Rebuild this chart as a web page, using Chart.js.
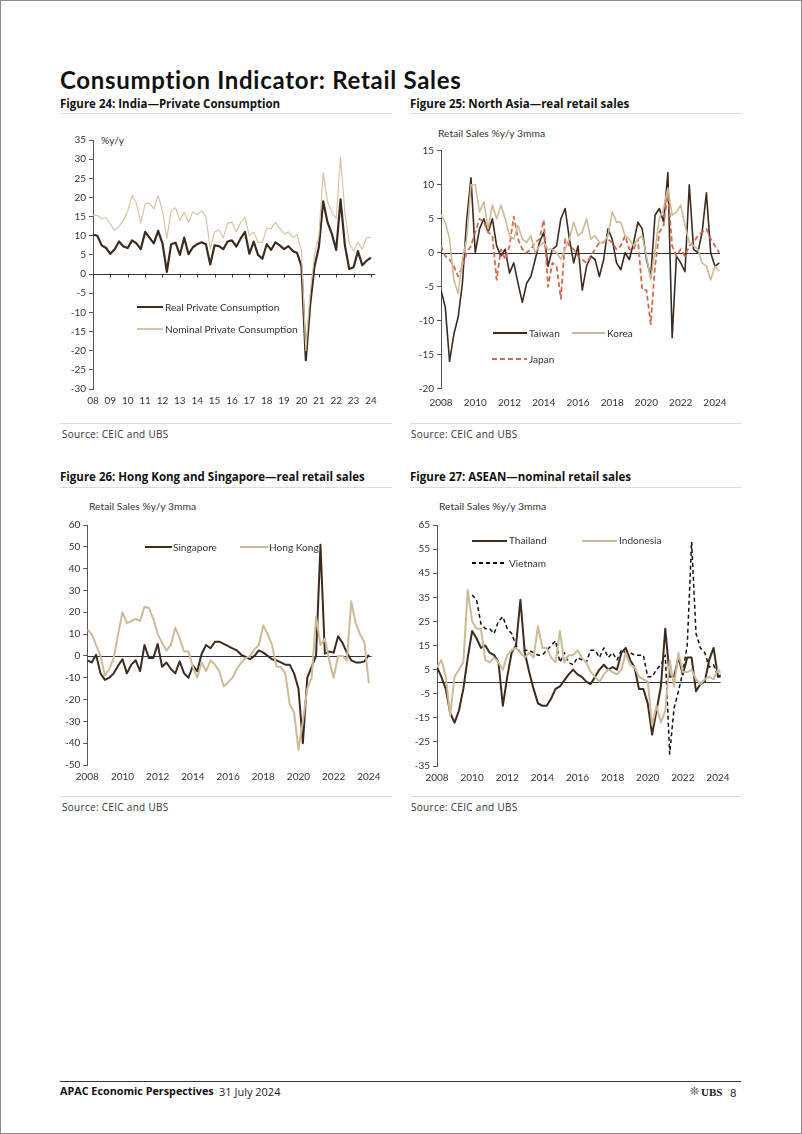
<!DOCTYPE html>
<html><head><meta charset="utf-8">
<script src="https://cdn.jsdelivr.net/npm/chart.js@4.4.1/dist/chart.umd.min.js"></script>
<style>
html,body{margin:0;padding:0;background:#fff;}
#page{position:relative;width:802px;height:1134px;overflow:hidden;font-family:Lato,"Open Sans",sans-serif;color:#222;}
#frame{position:absolute;left:0;top:0;width:800px;height:1132px;border:1px solid #8a8a8a;}
.t{position:absolute;white-space:nowrap;line-height:1;}
.b{font-weight:bold;color:#111;}
.os{font-family:"Open Sans",sans-serif;}
.hr{position:absolute;height:1px;background:#dcdcdc;}
canvas{position:absolute;}
.lg{position:absolute;}
.lt{position:absolute;white-space:nowrap;line-height:1;font-size:10.1px;color:#333;}
.src{font-size:10px;letter-spacing:0.3px;color:#333;font-family:"Open Sans",sans-serif;}
.ax{font-size:10.3px;color:#333;}
</style></head><body><div id="page">
<div id="frame"></div>
<div class="t b" style="left:60px;top:68px;font-size:24px;letter-spacing:0.7px;font-variant-ligatures:none;">Consumption Indicator: Retail Sales</div>

<div class="t b os" style="left:60px;top:98.1px;font-size:11.5px;">Figure 24: India—Private Consumption</div>
<div class="t b os" style="left:410px;top:98.1px;font-size:11.5px;">Figure 25: North Asia—real retail sales</div>
<div class="hr" style="left:60px;top:113px;width:332px;"></div>
<div class="hr" style="left:410px;top:113px;width:332px;"></div>

<div class="t b os" style="left:60px;top:470.8px;font-size:11.5px;">Figure 26: Hong Kong and Singapore—real retail sales</div>
<div class="t b os" style="left:410px;top:470.8px;font-size:11.5px;">Figure 27: ASEAN—nominal retail sales</div>
<div class="hr" style="left:60px;top:486.5px;width:332px;"></div>
<div class="hr" style="left:410px;top:486.5px;width:332px;"></div>

<div class="hr" style="left:60px;top:423px;width:332px;"></div>
<div class="hr" style="left:410px;top:423px;width:332px;"></div>
<div class="t src" style="left:62px;top:429.4px;">Source: CEIC and UBS</div>
<div class="t src" style="left:411px;top:429.4px;">Source: CEIC and UBS</div>
<div class="hr" style="left:60px;top:796px;width:332px;"></div>
<div class="hr" style="left:410px;top:796px;width:332px;"></div>
<div class="t src" style="left:62px;top:801.8px;">Source: CEIC and UBS</div>
<div class="t src" style="left:411px;top:801.8px;">Source: CEIC and UBS</div>

<div class="t ax" style="left:101px;top:134.5px;">%y/y</div>
<div class="t ax" style="left:438px;top:127.8px;">Retail Sales %y/y 3mma</div>
<div class="t ax" style="left:89px;top:501px;">Retail Sales %y/y 3mma</div>
<div class="t ax" style="left:439px;top:501px;">Retail Sales %y/y 3mma</div>

<canvas id="c1" width="330" height="290" style="left:60px;top:125px;"></canvas>
<canvas id="c2" width="340" height="275" style="left:405px;top:140px;"></canvas>
<canvas id="c3" width="345" height="280" style="left:55px;top:515px;"></canvas>
<canvas id="c4" width="340" height="280" style="left:405px;top:515px;"></canvas>

<!-- legends -->
<div class="lg" style="left:137px;top:306.2px;width:26px;height:2.2px;background:#3d2b1f;"></div>
<div class="lt" style="left:165px;top:301.9px;">Real Private Consumption</div>
<div class="lg" style="left:137px;top:328.4px;width:26px;height:1.2px;background:#d6c4a5;"></div>
<div class="lt" style="left:165px;top:323.7px;">Nominal Private Consumption</div>

<div class="lg" style="left:493px;top:332.2px;width:34px;height:1.6px;background:#3d2b1f;"></div>
<div class="lt" style="left:529px;top:327.7px;">Taiwan</div>
<div class="lg" style="left:572px;top:332.2px;width:33px;height:1.6px;background:#cfba98;"></div>
<div class="lt" style="left:607px;top:327.7px;">Korea</div>
<div class="lg" style="left:492px;top:358px;width:35px;height:2px;background:repeating-linear-gradient(90deg,#d4694e 0 5px,transparent 5px 8px);"></div>
<div class="lt" style="left:529px;top:353.7px;">Japan</div>

<div class="lg" style="left:145px;top:546.3px;width:27px;height:2px;background:#3d2b1f;"></div>
<div class="lt" style="left:173px;top:541.9px;">Singapore</div>
<div class="lg" style="left:240px;top:546.3px;width:28px;height:2px;background:#cfba98;"></div>
<div class="lt" style="left:269px;top:541.9px;">Hong Kong</div>

<div class="lg" style="left:472px;top:539.7px;width:35px;height:2px;background:#3d2b1f;"></div>
<div class="lt" style="left:509px;top:535.4px;">Thailand</div>
<div class="lg" style="left:582px;top:539.7px;width:35px;height:2px;background:#cfba98;"></div>
<div class="lt" style="left:619px;top:535.4px;">Indonesia</div>
<div class="lg" style="left:472px;top:562px;width:35px;height:1.6px;background:repeating-linear-gradient(90deg,#111 0 4px,transparent 4px 7px);"></div>
<div class="lt" style="left:509px;top:557.7px;">Vietnam</div>

<!-- footer -->
<div style="position:absolute;left:60px;top:1081px;width:681px;height:1.3px;background:#333;"></div>
<div class="t b os" style="left:60px;top:1086.1px;font-size:10.8px;">APAC Economic Perspectives</div>
<div class="t os" style="left:219px;top:1085.9px;font-size:11px;color:#222;">31 July 2024</div>
<div class="t" style="left:690px;top:1086px;font-size:11px;color:#333;font-family:'DejaVu Sans';">&#10058;</div>
<div class="t" style="left:701px;top:1086.5px;font-size:11px;font-weight:bold;color:#222;font-family:'Liberation Serif';">UBS</div>
<div class="t" style="left:730px;top:1086.5px;font-size:11px;color:#222;">8</div>
</div>

<script>
// ---------- data ----------
const startYear = 2008;        // first quarter = 2008Q1
const quarterStep = 0.25;      // quarterly observations

// Figure 24: India (quarterly, 2008Q1-2024Q1)
const indiaReal = [10.3,10.0,7.5,6.8, 5.3,6.5,8.5,7.2, 6.8,8.8,8.0,6.5, 11.0,9.5,8.0,11.3, 8.0,0.6,7.8,8.2,
  5.0,9.5,5.2,7.0, 7.8,8.3,7.8,2.5, 7.5,7.3,6.5,8.5, 8.8,7.2,9.3,11.0, 5.3,8.5,5.0,4.0, 7.8,6.3,8.3,7.5,
  6.5,7.3,6.0,5.5, 2.0,-22.5,-8.0,2.0, 7.0,19.0,13.5,10.5, 6.3,19.5,7.5,1.3, 1.8,6.0,2.3,3.5, 4.3];
const indiaNominal = [15.3,15.3,14.5,14.7, 13.0,11.5,12.5,14.0, 16.5,20.5,18.5,13.3, 18.3,18.5,17.0,20.5,
  16.5,9.3,16.5,17.3, 14.0,16.0,13.5,16.3, 15.5,16.5,15.0,6.5, 11.0,11.5,9.5,13.3, 13.5,11.0,13.5,14.8,
  10.0,11.0,8.3,8.3, 12.0,11.8,13.5,12.0, 10.5,11.0,9.5,10.3, 6.0,-20.0,-5.0,5.0, 10.0,26.5,19.0,16.0,
  14.5,30.5,16.0,8.0, 6.0,8.3,6.5,9.5, 9.5];
const indiaYears = [2008,2009,2010,2011,2012,2013,2014,2015,2016,2017,2018,2019,2020,2021,2022,2023,2024];
const indiaYTicks = [-30,-25,-20,-15,-10,-5,0,5,10,15,20,25,30,35];

// Figure 25: North Asia (3mma, sampled quarterly 2008Q1-2024Q2)
const taiwan = [-5.5,-8,-16,-12, -9.5,-4.5,4.8,11, 0,3.5,5,3, 5,1,-0.5,0.5, -3,-1.5,-4.5,-7.3, -4.5,-3.5,-1,1.5,
  3,-2,0.5,1, 5,6.5,2,-1.5, 1,-5.5,-2,-0.5, -1,-3.5,-1,3.5, 2,-1.5,-2.5,0, -1,1.5,4.5,3.5, -1,-3.5,5.5,6.5,
  4.5,11.8,-12.5,-0.5, -1.5,-2.8,10,0.5, 0,3,8.8,0, -2,-1.5];
const korea = [5.5,4.5,2,-4, -6,-1,2,10, 10,6,7.5,3.5, 7,5,7,5, 2.5,2,4,2, 1.5,2.5,0,1, 1.5,0.5,0.5,0,
  -1,0.5,2,4.5, 2.5,3,5,2, 2.5,1.5,1.5,2.5, 6,4.5,4.5,2.5, 2,1,2,2.5, -0.5,-4,0.5,5, 6.5,9.5,5.5,6,
  7,4,1.5,1, 0.5,-1.5,-2,-4, -2,-2.7];
const japan = [1,-0.5,-1,-2, -3.5,-2,0,1, 3,5,4.5,3, 2.5,-4,0.5,-1, 1,5.3,2,0.5, 0,0.5,1.5,2, 4.8,-5,-1.5,-2,
  -6.8,2,1,0.5, -0.5,-1,-1.5,-0.5, 0.5,1.5,1.5,2, 1.5,0.5,1,2.5, 0.5,0.5,2,-5.5, -5.5,-10.5,-2,3,
  4,9,1,-0.5, 0.5,-0.5,1,1.5, 2.5,3,3.5,2, 1,0];
const northAsiaYTicks = [-20,-15,-10,-5,0,5,10,15];

// Figure 26: Hong Kong and Singapore (3mma, sampled quarterly 2008Q1-2024Q1)
const singapore = [-2,-3,0.5,-8, -11,-10,-8,-4.5, -1.5,-8,-4,-2, -7,5,-1,-1, 5.5,-5,-3,-6, -8,-2.5,-8,-10,
  -4.5,-7,1,5, 3.5,6.5,6.5,5.5, 4.5,3.5,2.5,0.5, -0.5,-1.5,0,2.5, 1.5,0,-1.5,-2, -3,-4,-4,-8,
  -15,-40,-10,-5, 0,51,1,2, 1.5,9,6,1.5, -2,-3,-3,-2.5, 0.5];
const hongKong = [12,10,5,0, -9,-6,-1,10, 20,15,16,17, 16,22.5,22,17, 10,6,2.5,5, 13,8,2,2, -5,-10,-3,-7,
  -2,-4,-7,-14, -12,-10,-6,-3, -1,0,3,5, 14,10,5,-5, -5,-8,-22,-26, -43,-30,-15,-10, 18,5,8,-2,
  -10,0,0,-2, 25,15,10,6, -12.5];
const hkSgYTicks = [-50,-40,-30,-20,-10,0,10,20,30,40,50,60];

// Figure 27: ASEAN (3mma, sampled quarterly 2008Q1-2024Q2)
const thailand = [6,2,-3,-13, -17,-12,-3,10, 21,18,14,15, 12,11,8,-10, 2,12,15,34, 12,4,-3,-9, -10,-10,-7,-3,
  -2,0.5,3,5, 3,2,0,-1, 2,5,7,5, 6,5,12,14, 9,6,-3,-3, -9,-22,-12,-2, 22,2,2,10, 3,10,10,-4,
  -1,0,9,14, 2,3];
const indonesia = [6,9,2,-14, 2,5,8,38, 25,22,22,9, 8,10,8,5, 11,13,14,12, 10,12,10,23, 14,14,10,8,
  21,8,11,11, 13,10,8,4, 2,0,3,5, 4,3,5,12, 7,6,2,1, 0,-18,-10,-17, -12,9,-2,12, 4,4,5,1,
  -1,1,2,1, 5,3];
const vietnam = [null,null,null,null, null,null,null,null, 36,34,24,22, 22,20,25,27, 22,20,15,12, 13,13,12,11,
  11,13,15,17, 8,12,8,7, 10,9,8,13, 13,10,14,10, 12,9,13,12, 12,11,11,11, 2,2,5,7, 11,-30,-11,-4,
  4,15,58,20, 14,12,6,7, 2,2];
const aseanYTicks = [-35,-25,-15,-5,5,15,25,35,45,55,65];

const evenYears = [2008,2010,2012,2014,2016,2018,2020,2022,2024];

// ---------- colours ----------
const DARK = '#3d2b1f', TAN = '#cfba98', TAN_LIGHT = '#d6c4a5', RED = '#d4694e', BLACK = '#111';

// ---------- helpers ----------
const zeroLine = {
  id: 'zeroLine',
  beforeDatasetsDraw(chart, args, opts) {
    const {ctx, chartArea: a, scales: {x, y}} = chart;
    const y0 = Math.round(y.getPixelForValue(0)) + 0.5;
    ctx.save();
    ctx.strokeStyle = '#333'; ctx.lineWidth = 1;
    ctx.beginPath(); ctx.moveTo(a.left, y0); ctx.lineTo(a.right, y0); ctx.stroke();
    if (opts && opts.ticks) {
      ctx.beginPath();
      opts.ticks.forEach(v => { const px = Math.round(x.getPixelForValue(v)) + 0.5; ctx.moveTo(px, y0); ctx.lineTo(px, y0 + 3); });
      ctx.stroke();
    }
    ctx.restore();
  }
};

const tickFont = {family: 'Lato', size: 10};

function makeChart(id, cfg) {
  const datasets = cfg.series.map(s => ({
    label: s.label,
    data: s.values.map((v, i) => ({x: startYear + i * quarterStep, y: v})),
    borderColor: s.color, borderWidth: s.width, borderDash: s.dash || [],
    pointRadius: 0, tension: 0, fill: false, spanGaps: false,
    borderJoinStyle: 'round', borderCapStyle: 'butt'
  }));
  return new Chart(document.getElementById(id), {
    type: 'line',
    data: {datasets},
    options: {
      responsive: false, animation: false, events: [],
      layout: {padding: cfg.pad},
      plugins: {legend: {display: false}, tooltip: {enabled: false}, zeroLine: {ticks: cfg.zeroTicks || null}},
      scales: {
        x: {
          type: 'linear', min: cfg.xMin, max: cfg.xMax,
          afterBuildTicks: s => { s.ticks = cfg.xTicks.map(v => ({value: v})); },
          afterFit: s => { s.height = cfg.xH; },
          grid: {display: false, drawTicks: false}, border: {display: false},
          ticks: {callback: cfg.xFmt, font: tickFont, color: '#333', padding: cfg.xPad, maxRotation: 0, autoSkip: false}
        },
        y: {
          min: cfg.yTicks[0], max: cfg.yTicks[cfg.yTicks.length - 1],
          afterBuildTicks: s => { s.ticks = cfg.yTicks.map(v => ({value: v})); },
          afterFit: s => { s.width = cfg.yW; },
          grid: {drawOnChartArea: false, drawTicks: true, tickLength: 4, color: '#555'},
          border: {display: true, color: '#555', width: 1},
          ticks: {font: tickFont, color: '#333', padding: 3, autoSkip: false}
        }
      }
    },
    plugins: [zeroLine]
  });
}

makeChart('c1', {
  series: [
    {label: 'Nominal Private Consumption', values: indiaNominal, color: TAN_LIGHT, width: 1.2},
    {label: 'Real Private Consumption', values: indiaReal, color: DARK, width: 2.2}
  ],
  xMin: 2008, xMax: 2024.25, xTicks: indiaYears, xFmt: v => String(v).slice(2),
  yTicks: indiaYTicks, yW: 33, xH: 20, xPad: 6,
  pad: {left: 0, top: 15, right: 14.7, bottom: 6}, zeroTicks: indiaYears
});

makeChart('c2', {
  series: [
    {label: 'Korea', values: korea, color: TAN, width: 1.6},
    {label: 'Japan', values: japan, color: RED, width: 1.8, dash: [5, 3]},
    {label: 'Taiwan', values: taiwan, color: DARK, width: 1.6}
  ],
  xMin: 2008, xMax: 2024.3, xTicks: evenYears, xFmt: v => String(v),
  yTicks: northAsiaYTicks, yW: 36, xH: 20, xPad: 8,
  pad: {left: 0, top: 10.7, right: 24.9, bottom: 6.3}
});

makeChart('c3', {
  series: [
    {label: 'Hong Kong', values: hongKong, color: TAN, width: 2},
    {label: 'Singapore', values: singapore, color: DARK, width: 2}
  ],
  xMin: 2008, xMax: 2024.15, xTicks: evenYears, xFmt: v => String(v),
  yTicks: hkSgYTicks, yW: 32.3, xH: 20, xPad: 6,
  pad: {left: 0, top: 10, right: 28.5, bottom: 10}
});

makeChart('c4', {
  series: [
    {label: 'Indonesia', values: indonesia, color: TAN, width: 2},
    {label: 'Thailand', values: thailand, color: DARK, width: 2},
    {label: 'Vietnam', values: vietnam, color: BLACK, width: 1.5, dash: [4, 3]}
  ],
  xMin: 2008, xMax: 2024.15, xTicks: evenYears, xFmt: v => String(v),
  yTicks: aseanYTicks, yW: 32, xH: 20, xPad: 6,
  pad: {left: 0, top: 10, right: 24.4, bottom: 9}
});
</script>
</body></html>
